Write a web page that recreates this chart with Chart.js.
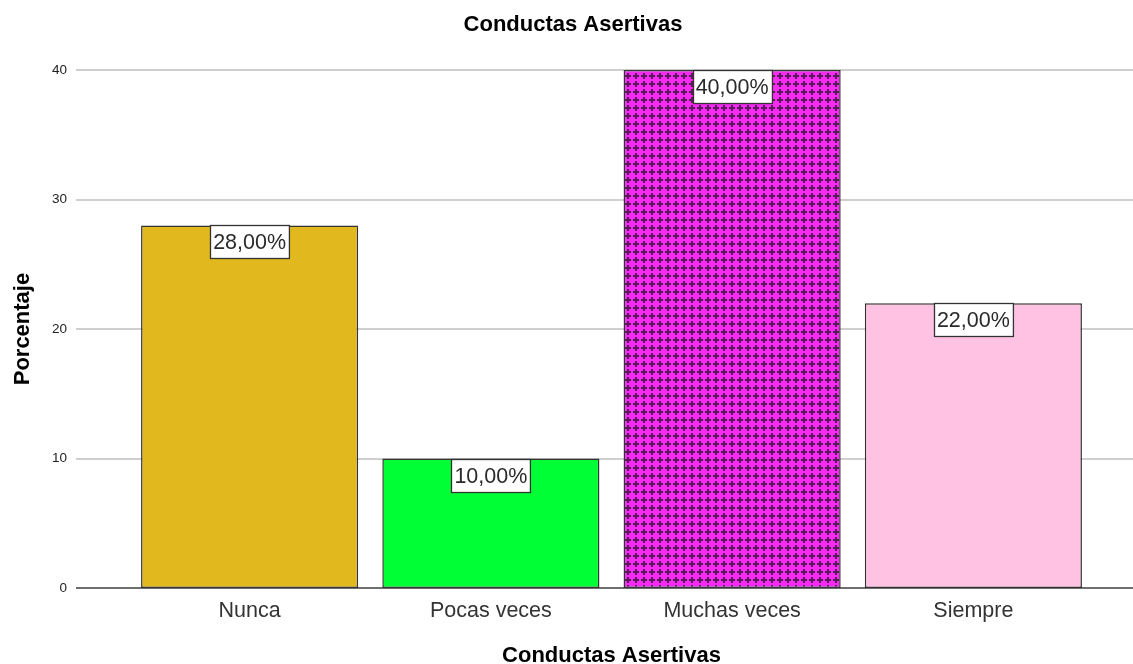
<!DOCTYPE html>
<html>
<head>
<meta charset="utf-8">
<script src="https://cdn.jsdelivr.net/npm/chart.js@4/dist/chart.umd.min.js"></script>
<style>
  html, body { margin: 0; padding: 0; background: #ffffff; }
  #wrap { width: 1133px; height: 664px; position: relative; }
</style>
</head>
<body>
<div id="wrap"><canvas id="c"></canvas></div>
<script>
const chartTitle = 'Conductas Asertivas';
const xTitle = 'Conductas Asertivas';
const yTitle = 'Porcentaje';
const categories = ['Nunca', 'Pocas veces', 'Muchas veces', 'Siempre'];
const percentages = [28, 10, 40, 22];
const valueLabels = ['28,00%', '10,00%', '40,00%', '22,00%'];
const yTicks = [0, 10, 20, 30, 40];

const FONT = '"Liberation Sans", Arial, sans-serif';

function makePattern() {
  const p = document.createElement('canvas');
  p.width = 8; p.height = 8;
  const g = p.getContext('2d');
  g.fillStyle = '#f72af7';
  g.fillRect(0, 0, 8, 8);
  g.fillStyle = '#5a1a5a';
  g.fillRect(3, 1, 2, 6);
  g.fillRect(1, 3, 6, 2);
  return document.getElementById('c').getContext('2d').createPattern(p, 'repeat');
}

const fills = ['#e1b91e', '#00ff35', makePattern(), '#ffc2e2'];

const gridPlugin = {
  id: 'extGrid',
  beforeDatasetsDraw(chart) {
    const ctx = chart.ctx;
    const ys = chart.scales.y;
    ctx.save();
    yTicks.forEach(v => {
      const py = Math.round(ys.getPixelForValue(v));
      ctx.beginPath();
      ctx.strokeStyle = v === 0 ? '#6e6e6e' : '#cfcfcf';
      ctx.lineWidth = 2;
      ctx.moveTo(76, py);
      ctx.lineTo(chart.width, py);
      ctx.stroke();
    });
    ctx.restore();
  }
};

const labelPlugin = {
  id: 'boxLabels',
  afterDatasetsDraw(chart) {
    const ctx = chart.ctx;
    const meta = chart.getDatasetMeta(0);
    ctx.save();
    ctx.font = '21.5px ' + FONT;
    meta.data.forEach((bar, i) => {
      const txt = valueLabels[i];
      const w = ctx.measureText(txt).width + 6;
      const h = 33;
      const x = Math.round(bar.x - w / 2) + 0.5;
      const y = Math.round(bar.y) + 0.5;
      ctx.fillStyle = '#ffffff';
      ctx.fillRect(x, y, w, h);
      ctx.strokeStyle = '#333333';
      ctx.lineWidth = 1.3;
      ctx.strokeRect(x, y, w, h);
      ctx.fillStyle = '#2a2a2a';
      ctx.textAlign = 'center';
      ctx.textBaseline = 'middle';
      ctx.fillText(txt, bar.x, y + h / 2 + 1);
    });
    ctx.restore();
  }
};

new Chart(document.getElementById('c'), {
  type: 'bar',
  data: {
    labels: categories,
    datasets: [{
      data: percentages,
      backgroundColor: fills,
      borderColor: '#333333',
      borderWidth: 1.5,
      borderSkipped: false,
      barPercentage: 0.9,
      categoryPercentage: 1.0
    }]
  },
  options: {
    responsive: true,
    maintainAspectRatio: false,
    animation: false,
    devicePixelRatio: 1,
    layout: { padding: { left: 13, right: 0, top: 0, bottom: 0 } },
    plugins: {
      legend: { display: false },
      tooltip: { enabled: false },
      title: {
        display: true,
        text: chartTitle,
        color: '#000000',
        font: { family: FONT, size: 22, weight: 'bold', lineHeight: 1.2 },
        padding: { top: 10, bottom: 32 }
      }
    },
    scales: {
      x: {
        grid: { display: false, drawTicks: false },
        border: { display: false },
        ticks: { color: '#333333', font: { family: FONT, size: 21.5 }, padding: 10, maxRotation: 0 },
        title: {
          display: true, text: xTitle, color: '#000000',
          font: { family: FONT, size: 22, weight: 'bold', lineHeight: 1.0 },
          padding: { top: 0, bottom: -3 }
        },
        afterFit(scale) { scale.height = 76; }
      },
      y: {
        min: 0, max: 40,
        afterBuildTicks(scale) { scale.ticks = yTicks.map(v => ({ value: v })); },
        grid: { display: false, drawTicks: false },
        border: { display: false },
        ticks: { color: '#222222', font: { family: FONT, size: 13.5 }, padding: 62 },
        title: {
          display: true, text: yTitle, color: '#000000',
          font: { family: FONT, size: 22, weight: 'bold', lineHeight: 1.2 },
          padding: { top: -3, bottom: 0 }
        },
        afterFit(scale) { scale.width = 116; }
      },
      yRight: {
        position: 'right',
        display: true,
        grid: { display: false, drawTicks: false },
        border: { display: false },
        ticks: { display: false },
        afterFit(scale) { scale.width = 39; }
      }
    }
  },
  plugins: [gridPlugin, labelPlugin]
});
</script>
</body>
</html>
